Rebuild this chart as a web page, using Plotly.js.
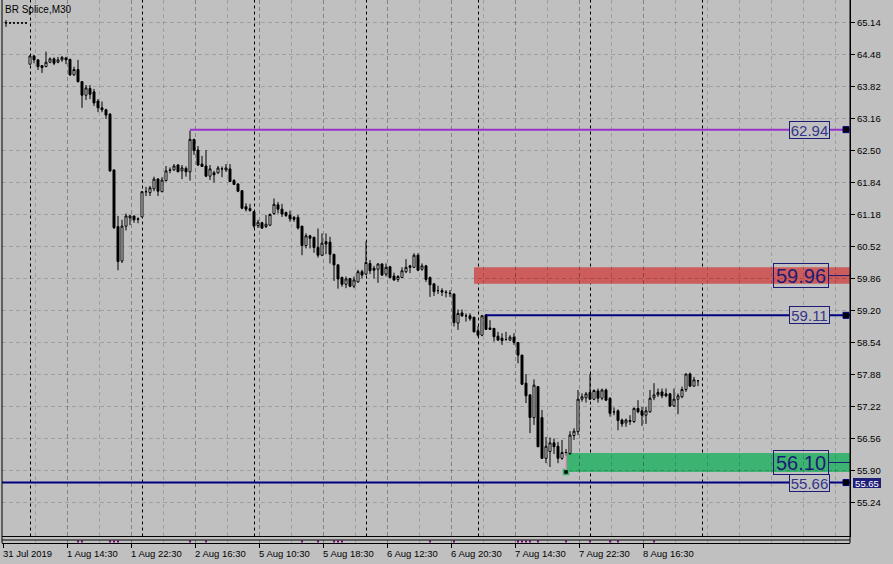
<!DOCTYPE html>
<html><head><meta charset="utf-8">
<script src="https://cdn.plot.ly/plotly-3.0.1.min.js"></script>
<style>html,body{margin:0;padding:0;background:#c0c0c0;overflow:hidden}#chart{width:893px;height:564px}</style>
</head><body><div id="chart"></div>
<script>
// ---- data (M30 bars, BR Splice) ----
const openP = [65.15,65.14,65.14,65.14,65.14,65.14,64.29,64.46,64.38,64.26,64.24,64.33,64.40,64.33,64.38,64.42,64.39,64.07,64.18,63.93,
63.65,63.79,63.72,63.53,63.39,63.35,63.26,62.11,60.94,60.23,60.95,61.12,61.16,61.10,61.14,61.66,61.64,61.72,61.92,61.66,
61.89,62.11,62.11,62.21,62.09,62.14,62.07,62.74,62.52,62.23,62.19,61.98,62.05,62.05,62.13,62.11,62.13,61.89,61.82,61.68,
61.35,61.31,61.25,60.96,61.02,60.94,60.97,61.21,61.39,61.30,61.23,61.18,61.13,61.13,60.95,60.55,60.75,60.72,60.51,60.35,
60.63,60.62,60.37,60.15,59.89,59.75,59.87,59.71,59.80,60.01,59.96,60.18,60.08,60.06,60.17,59.96,60.11,59.92,59.85,59.89,
60.01,60.13,60.10,60.35,60.06,60.13,59.89,59.76,59.62,59.62,59.59,59.57,59.55,58.95,59.16,59.10,59.10,59.07,58.79,58.70,
59.12,58.85,58.84,58.68,58.64,58.61,58.60,58.66,58.55,58.29,57.71,57.47,57.00,57.64,57.00,56.16,56.30,56.48,56.41,56.16,
56.27,56.26,56.63,56.71,57.38,57.41,57.52,57.38,57.55,57.40,57.57,57.40,57.12,57.14,56.95,56.89,56.92,56.92,57.19,57.14,
57.05,57.12,57.41,57.47,57.53,57.49,57.49,57.24,57.38,57.43,57.58,57.90,57.65,57.76];
const highP = [65.20,65.14,65.14,65.14,65.14,65.14,64.47,64.48,64.38,64.27,64.55,64.43,64.43,64.44,64.46,64.44,64.40,64.24,64.38,63.94,
63.86,63.86,63.78,63.57,63.52,63.37,63.28,62.11,61.16,61.08,61.21,61.18,61.16,61.13,61.67,61.76,61.78,61.97,61.94,61.96,
62.19,62.16,62.23,62.23,62.21,62.18,62.92,62.75,62.60,62.40,62.52,62.21,62.09,62.19,62.18,62.23,62.23,61.92,61.83,61.69,
61.42,61.41,61.26,61.08,61.04,61.18,61.21,61.52,61.45,61.41,61.25,61.27,61.16,61.18,60.95,60.80,60.77,60.73,60.90,60.80,
60.80,60.73,60.37,60.17,59.91,59.91,59.88,59.91,60.05,60.05,60.63,60.25,60.13,60.18,60.18,60.18,60.13,59.99,59.94,60.10,
60.27,60.15,60.39,60.39,60.18,60.15,59.91,59.77,59.72,59.67,59.63,59.63,59.56,59.23,59.23,59.15,59.15,59.08,58.89,59.12,
59.12,59.01,58.85,58.77,58.74,58.77,58.70,58.74,58.56,58.29,57.90,57.47,57.79,57.65,57.16,56.60,56.59,56.57,56.50,56.54,
56.35,56.72,56.78,57.57,57.50,57.53,57.90,57.58,57.60,57.60,57.60,57.42,57.21,57.17,56.98,56.98,57.05,57.21,57.36,57.22,
57.22,57.57,57.71,57.60,57.60,57.60,57.51,57.60,57.50,57.64,57.91,57.93,57.84,57.76];
const lowP = [65.06,65.14,65.14,65.14,65.14,65.14,64.28,64.31,64.17,64.11,64.23,64.31,64.27,64.31,64.34,64.29,64.05,64.05,63.91,63.39,
63.55,63.57,63.43,63.30,63.30,63.16,62.07,60.89,60.04,60.19,60.86,60.97,61.02,61.01,61.14,61.57,61.57,61.67,61.57,61.65,
61.87,62.04,62.09,62.07,61.92,61.97,61.89,62.42,62.19,62.17,61.96,61.90,61.85,62.03,61.96,62.07,61.86,61.80,61.65,61.30,
61.25,61.25,60.91,60.91,60.89,60.91,60.95,61.18,61.21,61.14,61.14,61.04,61.04,60.88,60.35,60.49,60.49,60.40,60.30,60.33,
60.37,60.18,59.82,59.66,59.70,59.67,59.69,59.67,59.78,59.87,59.94,59.96,59.87,59.78,59.92,59.91,59.87,59.82,59.80,59.88,
59.98,59.98,60.09,60.02,60.03,59.80,59.49,59.51,59.55,59.51,59.48,59.49,58.88,58.81,59.08,58.98,59.00,58.76,58.67,58.68,
58.81,58.81,58.57,58.58,58.50,58.59,58.58,58.50,58.12,57.67,57.30,56.68,56.85,56.39,56.15,56.06,55.98,56.25,56.06,56.13,
56.21,56.23,56.54,56.64,57.33,57.31,57.36,57.36,57.31,57.36,57.34,57.02,57.05,56.74,56.81,56.81,56.85,56.89,57.09,56.83,
56.87,57.10,57.36,57.43,57.40,57.42,57.22,57.22,57.07,57.40,57.53,57.63,57.64,57.65];
const closeP = [65.14,65.14,65.14,65.14,65.14,65.14,64.46,64.38,64.24,64.22,64.33,64.40,64.31,64.38,64.43,64.38,64.07,64.18,63.93,63.65,
63.80,63.67,63.49,63.39,63.35,63.24,62.09,60.92,60.22,60.95,61.16,61.16,61.08,61.09,61.66,61.66,61.74,61.92,61.67,61.90,
62.09,62.10,62.19,62.07,62.15,62.07,62.74,62.51,62.21,62.18,61.98,62.13,62.01,62.15,62.13,62.15,61.87,61.81,61.67,61.32,
61.30,61.27,60.95,61.03,60.91,60.99,61.19,61.40,61.30,61.20,61.17,61.10,61.09,60.91,60.55,60.75,60.70,60.51,60.35,60.60,
60.58,60.37,60.15,59.86,59.75,59.86,59.71,59.84,60.01,59.94,60.20,60.03,60.04,60.17,59.94,60.10,59.89,59.84,59.91,60.03,
60.10,60.10,60.35,60.04,60.13,59.85,59.74,59.60,59.62,59.59,59.58,59.56,58.96,59.15,59.10,59.10,59.04,58.77,58.70,59.10,
58.82,58.82,58.67,58.60,58.59,58.61,58.66,58.55,58.29,57.69,57.45,57.00,57.67,56.40,56.16,56.41,56.48,56.40,56.16,56.28,
56.28,56.64,56.72,57.38,57.43,57.49,57.38,57.56,57.40,57.57,57.36,57.09,57.12,56.94,56.87,56.95,56.94,57.19,57.12,57.05,
57.14,57.40,57.47,57.52,57.45,57.45,57.24,57.38,57.45,57.58,57.90,57.65,57.78,57.76];

const timeLabels = ['31 Jul 2019','1 Aug 14:30','1 Aug 22:30','2 Aug 16:30','5 Aug 10:30','5 Aug 18:30','6 Aug 12:30','6 Aug 20:30','7 Aug 14:30','7 Aug 22:30','8 Aug 16:30'];
const labelBars = [0,16,32,48,64,80,96,112,128,144,160];
const priceTicks = [65.14,64.48,63.82,63.16,62.50,61.84,61.18,60.52,59.86,59.20,58.54,57.88,57.22,56.56,55.90,55.24];
const daySeparatorBars = [6,34,62,90,118,146,174];

const lineLevels = [62.94, 59.11, 55.66];
const lineStartBars = [46, 120, -1];
const lineColors = ['#9932cc', '#000080', '#000080'];

const zoneTops = [60.10, 56.27];
const zoneBottoms = [59.76, 55.88];
const zoneStartBars = [117, 140];
const zoneLabels = ['59.96', '56.10'];
const zoneColors = ['#cd5c5c', '#3cb371'];

const bidPrice = 55.65;
const signalBars = [18,19,26,27,28,46,50,74,78,82,83,84,106,112,128,129,130,131,133,140,146,151,153,162];

// ---- chart ----
const barIndex = openP.map((_, i) => i);
const GRID = 'rgba(0,0,0,0.17)';
const NAVY = '#1c1c74';
const W = 848, H = 543;              // plot area px
const px = v => (v - 2) / W;         // paper x from page px
const HALF = 0.125;                  // half a pixel, in bar units (4 px per bar)
const mainBottom = 6.5 / H;
const subTop = 3 / H;

const traces = [
  {type:'candlestick', x: barIndex, open: openP, high: highP, low: lowP, close: closeP,
   increasing:{line:{color:'#000', width:1}, fillcolor:'#ffffff'},
   decreasing:{line:{color:'#000', width:1}, fillcolor:'#000000'},
   whiskerwidth:0, hoverinfo:'skip', xaxis:'x', yaxis:'y'},
  {type:'scatter', mode:'markers', x:[zoneStartBars[1]], y:[zoneBottoms[1]], cliponaxis:false,
   marker:{symbol:'square', size:5, color:'#000', line:{color:'#3cb371', width:1.5}}, hoverinfo:'skip', xaxis:'x', yaxis:'y'},
  {type:'scatter', mode:'markers', x: signalBars, y: signalBars.map(() => 0.5), cliponaxis:false,
   marker:{symbol:'square', size:2, color:'#800080'}, hoverinfo:'skip', xaxis:'x', yaxis:'y2'}
];

const shapes = [];
zoneTops.forEach((t, i) => {
  shapes.push({type:'rect', layer:'below', xref:'x', yref:'y', x0: zoneStartBars[i], x1: 211, y0: zoneBottoms[i], y1: t,
    fillcolor: zoneColors[i], line:{width:0}});
  const mid = (t + zoneBottoms[i]) / 2;
  shapes.push({type:'line', xref:'paper', yref:'y', x0: px(829), x1: 1, y0: mid, y1: mid, line:{color: NAVY, width:1}});
});
shapes.push({type:'line', xref:'x', yref:'y', x0: zoneStartBars[1], x1: zoneStartBars[1], y0: zoneTops[1], y1: zoneBottoms[1] + 0.04,
  line:{color:'#ff80c0', width:1.2}});
daySeparatorBars.forEach(b => shapes.push({type:'line', layer:'below', xref:'x', yref:'paper', x0: b + HALF, x1: b + HALF,
  y0: mainBottom, y1: 1, line:{color:'#000', width:1, dash:'3px,3px'}}));
lineLevels.forEach((v, i) => shapes.push({type:'line', xref:'x', yref:'y', x0: lineStartBars[i], x1: 211, y0: v, y1: v,
  line:{color: lineColors[i], width:2}}));
// end-of-line square handles
lineLevels.forEach(v => shapes.push({type:'rect', xref:'x', yref:'y', xsizemode:'pixel', ysizemode:'pixel',
  xanchor: 210, yanchor: v, x0:-3, x1:3, y0:-3, y1:3, fillcolor:'#000', line:{color:'#000080', width:1}}));
// frame
shapes.push({type:'line', xref:'paper', yref:'paper', x0:0, x1:1, y0:mainBottom, y1:mainBottom, line:{color:'#000', width:1}});
shapes.push({type:'line', xref:'paper', yref:'paper', x0:0, x1:1, y0:subTop, y1:subTop, line:{color:'#000', width:1}});
shapes.push({type:'line', xref:'paper', yref:'paper', x0:0, x1:0, y0:0, y1:1, line:{color:'#000', width:1}});
shapes.push({type:'line', xref:'paper', yref:'paper', x0:1, x1:1, y0:0, y1:1, line:{color:'#000', width:1}});

const annotations = [];
annotations.push({xref:'paper', yref:'paper', x: px(5), y: 1 - 9.5 / H, xanchor:'left', yanchor:'middle',
  text:'BR Splice,M30', showarrow:false, font:{family:'Liberation Sans', size:10, color:'#000'}, borderpad:0, borderwidth:0});
timeLabels.forEach((t, i) => annotations.push({xref:'x', yref:'paper', x: labelBars[i] - 0.75, y: -10 / H,
  xanchor:'left', yanchor:'middle', text:t, showarrow:false, borderpad:0, borderwidth:0,
  font:{family:'Liberation Sans', size:9.5, color:'#000'}}));
lineLevels.forEach(v => annotations.push({xref:'paper', yref:'y', x: px(830), y: v, xanchor:'right', yanchor:'middle',
  text: v.toFixed(2), showarrow:false, width:39, height:16, borderpad:0, borderwidth:1, bordercolor: NAVY, bgcolor:'#c0c0c0',
  font:{family:'Liberation Sans', size:15, color:'#34348c'}}));
zoneLabels.forEach((t, i) => annotations.push({xref:'paper', yref:'y', x: px(829), y: (zoneTops[i] + zoneBottoms[i]) / 2,
  xanchor:'right', yanchor:'middle', text:t, showarrow:false, width:54, height:23, borderpad:0, borderwidth:1, bordercolor: NAVY,
  bgcolor:'rgba(0,0,0,0)', font:{family:'Liberation Sans', size:20, color: NAVY}}));
annotations.push({xref:'paper', yref:'y', x: px(853), y: bidPrice, xanchor:'left', yanchor:'middle', text: bidPrice.toFixed(2),
  showarrow:false, width:28, height:10, borderpad:0, borderwidth:0, bgcolor:'#1e1e78',
  font:{family:'Liberation Sans', size:9.5, color:'#ffffff'}});

const layout = {
  width:893, height:564, margin:{l:2, r:43, t:0, b:21, pad:0},
  paper_bgcolor:'#c0c0c0', plot_bgcolor:'#c0c0c0', showlegend:false,
  font:{family:'Liberation Sans', size:9.5, color:'#000'},
  xaxis:{range:[-1, 211], anchor:'y2', automargin:false, tickmode:'array', tickvals: labelBars.map(b => b - 0.75),
    showticklabels:false, ticks:'outside', ticklen:4, tickcolor:'#000', tickwidth:1,
    showgrid:true, gridcolor:GRID, gridwidth:1, griddash:'4px,3px',
    minor:{tick0:-0.75, dtick:8, showgrid:true, gridcolor:GRID, gridwidth:1, griddash:'4px,3px', ticks:''},
    showline:true, linecolor:'#000', linewidth:1, zeroline:false, rangeslider:{visible:false}, fixedrange:true},
  yaxis:{domain:[mainBottom, 1], range:[54.548, 65.614], side:'right', anchor:'x', automargin:false,
    tickmode:'array', tickvals: priceTicks, tickformat:'.2f', ticks:'outside', ticklen:4, tickcolor:'#000',
    tickfont:{family:'Liberation Sans', size:9.5, color:'#000'},
    showgrid:true, gridcolor:GRID, gridwidth:1, griddash:'4px,3px', showline:true, linecolor:'#000', linewidth:1,
    zeroline:false, fixedrange:true},
  yaxis2:{domain:[0, subTop], range:[0, 1], anchor:'x', showgrid:false, showticklabels:false, zeroline:false,
    showline:false, ticks:'', fixedrange:true},
  shapes, annotations
};

Plotly.newPlot('chart', traces, layout, {staticPlot:true, displayModeBar:false});
</script>
</body></html>
